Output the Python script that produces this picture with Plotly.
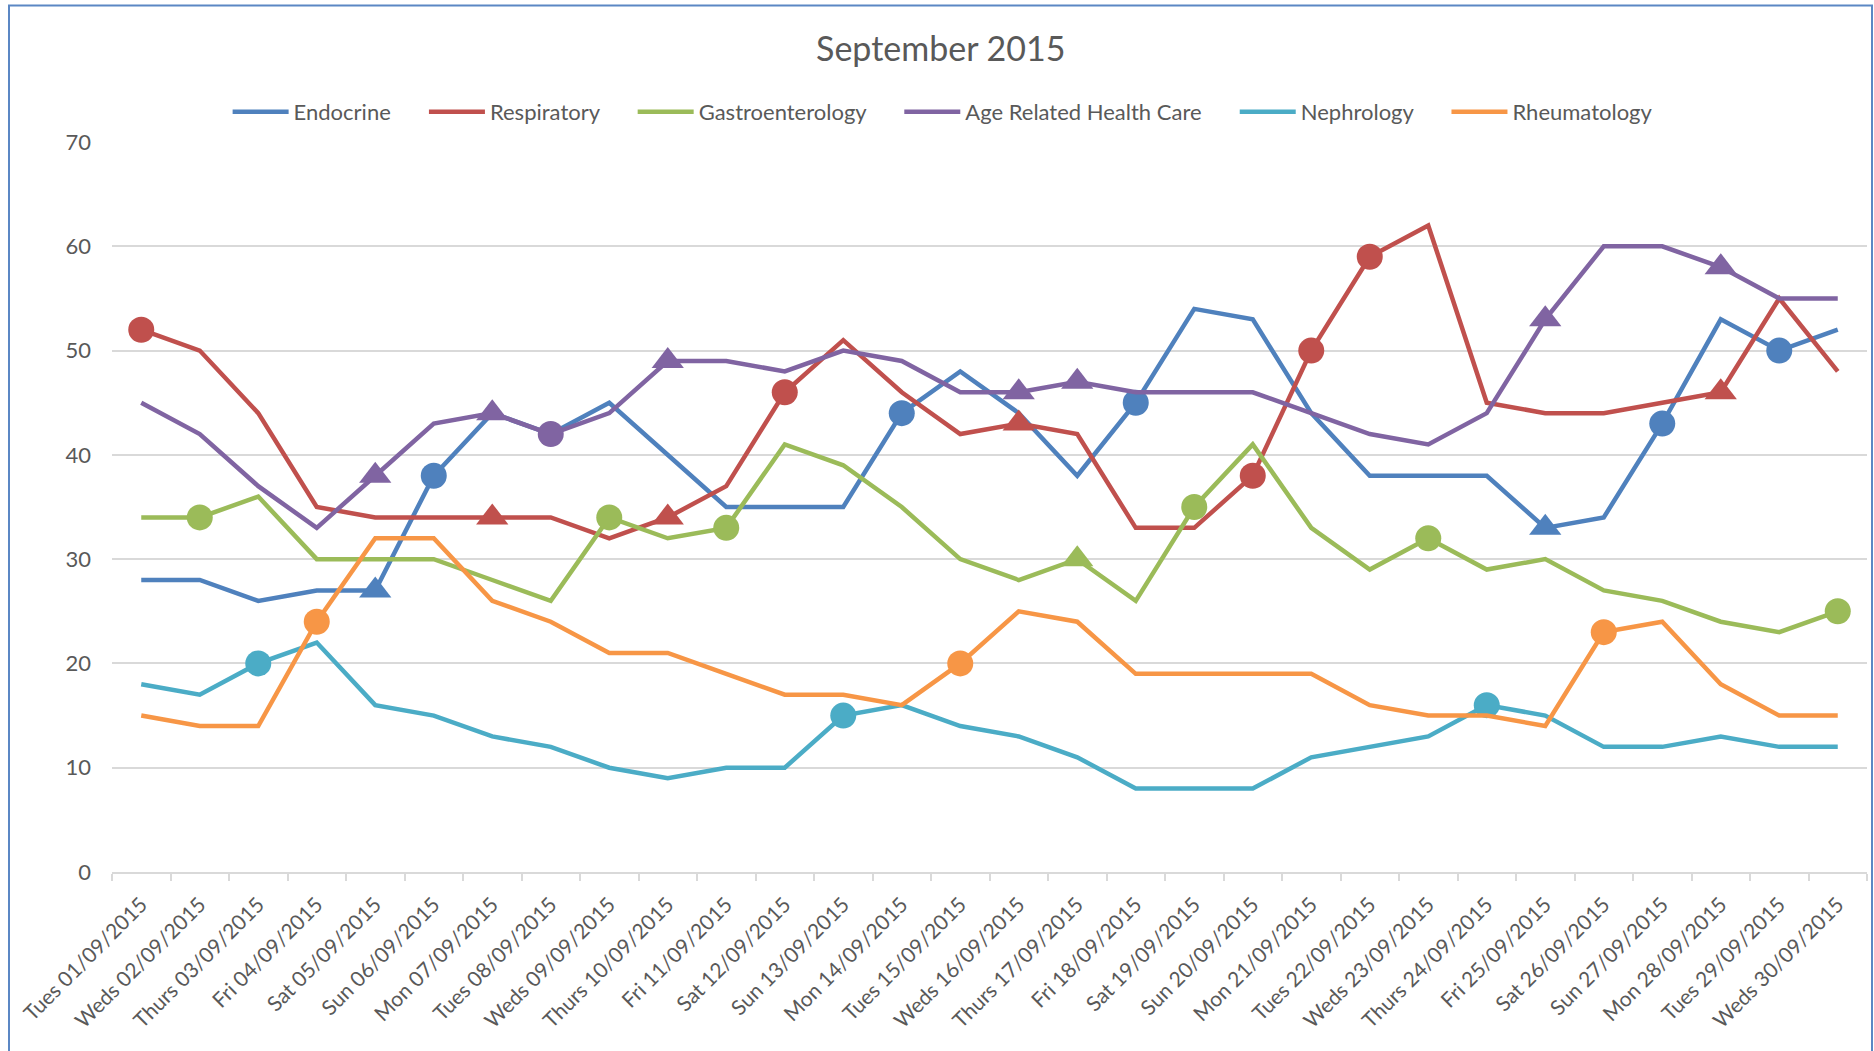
import plotly.graph_objects as go

categories = ["Tues 01/09/2015", "Weds 02/09/2015", "Thurs 03/09/2015", "Fri 04/09/2015",
              "Sat 05/09/2015", "Sun 06/09/2015", "Mon 07/09/2015", "Tues 08/09/2015",
              "Weds 09/09/2015", "Thurs 10/09/2015", "Fri 11/09/2015", "Sat 12/09/2015",
              "Sun 13/09/2015", "Mon 14/09/2015", "Tues 15/09/2015", "Weds 16/09/2015",
              "Thurs 17/09/2015", "Fri 18/09/2015", "Sat 19/09/2015", "Sun 20/09/2015",
              "Mon 21/09/2015", "Tues 22/09/2015", "Weds 23/09/2015", "Thurs 24/09/2015",
              "Fri 25/09/2015", "Sat 26/09/2015", "Sun 27/09/2015", "Mon 28/09/2015",
              "Tues 29/09/2015", "Weds 30/09/2015"]

endocrine = [28, 28, 26, 27, 27, 38, 44, 42, 45, 40, 35, 35, 35, 44, 48,
             44, 38, 45, 54, 53, 44, 38, 38, 38, 33, 34, 43, 53, 50, 52]
respiratory = [52, 50, 44, 35, 34, 34, 34, 34, 32, 34, 37, 46, 51, 46, 42,
               43, 42, 33, 33, 38, 50, 59, 62, 45, 44, 44, 45, 46, 55, 48]
gastro = [34, 34, 36, 30, 30, 30, 28, 26, 34, 32, 33, 41, 39, 35, 30,
          28, 30, 26, 35, 41, 33, 29, 32, 29, 30, 27, 26, 24, 23, 25]
age_related = [45, 42, 37, 33, 38, 43, 44, 42, 44, 49, 49, 48, 50, 49, 46,
               46, 47, 46, 46, 46, 44, 42, 41, 44, 53, 60, 60, 58, 55, 55]
nephrology = [18, 17, 20, 22, 16, 15, 13, 12, 10, 9, 10, 10, 15, 16, 14,
              13, 11, 8, 8, 8, 11, 12, 13, 16, 15, 12, 12, 13, 12, 12]
rheumatology = [15, 14, 14, 24, 32, 32, 26, 24, 21, 21, 19, 17, 17, 16, 20,
                25, 24, 19, 19, 19, 19, 16, 15, 15, 14, 23, 24, 18, 15, 15]

series_names = ["Endocrine", "Respiratory", "Gastroenterology",
                "Age Related Health Care", "Nephrology", "Rheumatology"]
series_values = [endocrine, respiratory, gastro, age_related, nephrology, rheumatology]

# indices of highlighted points (circles / triangles)
circle_points = [[5, 13, 17, 26, 28],
                 [0, 11, 19, 20, 21],
                 [1, 8, 10, 18, 22, 29],
                 [7],
                 [2, 12, 23],
                 [3, 14, 25]]
triangle_points = [[4, 24],
                   [6, 9, 15, 27],
                   [16],
                   [4, 6, 9, 15, 16, 24, 27],
                   [],
                   []]

colors = ["#4F81BD", "#C0504D", "#9BBB59", "#8064A2", "#4BACC6", "#F79646"]

FONT = "Lato, 'Open Sans', sans-serif"
TXT = "#595959"
PAD = "\u00a0" * 5  # spacing between legend entries

fig = go.Figure()
n = len(series_names)
for k, (name, vals, col, circ, tri) in enumerate(zip(series_names, series_values, colors,
                                                     circle_points, triangle_points)):
    label = name + (PAD if k < n - 1 else "")
    fig.add_trace(go.Scatter(x=categories, y=vals, mode="lines", name=label,
                             line=dict(color=col, width=4.5, shape="linear"),
                             hovertemplate="%{x}<br>%{y}<extra>" + name + "</extra>"))
    if circ:
        fig.add_trace(go.Scatter(x=[categories[i] for i in circ], y=[vals[i] for i in circ],
                                 mode="markers", showlegend=False, name=name,
                                 marker=dict(symbol="circle", size=26, color=col,
                                             line=dict(width=0))))
    if tri:
        fig.add_trace(go.Scatter(x=[categories[i] for i in tri], y=[vals[i] for i in tri],
                                 mode="markers", showlegend=False, name=name,
                                 marker=dict(symbol="triangle-up", size=28, color=col,
                                             line=dict(width=0))))

fig.update_layout(
    width=1874, height=1051,
    paper_bgcolor="white", plot_bgcolor="white",
    margin=dict(l=112, r=7, t=142, b=179, autoexpand=False),
    font=dict(family=FONT, color=TXT, size=22),
    title=dict(text="September 2015", x=0.502, xref="container", xanchor="center",
               y=1 - 49 / 1051, yref="container", yanchor="middle",
               font=dict(family=FONT, size=34, color=TXT)),
    legend=dict(orientation="h", xref="container", yref="container",
                x=0.503, xanchor="center", y=1 - 112 / 1051, yanchor="middle",
                font=dict(family=FONT, size=22, color=TXT), itemwidth=56,
                bgcolor="rgba(0,0,0,0)"),
    showlegend=True,
)

fig.update_xaxes(type="category", range=[-0.5, 29.5], tickson="boundaries",
                 showgrid=False, showline=True, linecolor="#D9D9D9", linewidth=2,
                 ticks="outside", ticklen=7, tickcolor="#D9D9D9", tickwidth=1.5,
                 tickangle=-45, tickfont=dict(family=FONT, size=21, color=TXT),
                 ticklabelstandoff=10, automargin=False, zeroline=False)
fig.update_yaxes(range=[0, 70], dtick=10, showgrid=True, gridcolor="#D9D9D9", gridwidth=1.5,
                 showline=False, zeroline=False, ticks="",
                 tickfont=dict(family=FONT, size=22, color=TXT),
                 ticklabelstandoff=20, automargin=False)

# chart border (Excel-style chart area outline)
fig.add_shape(type="rect", xref="paper", yref="paper",
              x0=(9 - 112) / 1755, x1=(1872 - 112) / 1755,
              y0=(872.5 - 1070) / 730.8, y1=(872.5 - 5) / 730.8,
              line=dict(color="#5B87C4", width=2), fillcolor="rgba(0,0,0,0)", layer="below")

fig.write_html("out.html", config={"displayModeBar": False},
               post_script="document.body.style.margin='0px';document.body.style.overflow='hidden';")
